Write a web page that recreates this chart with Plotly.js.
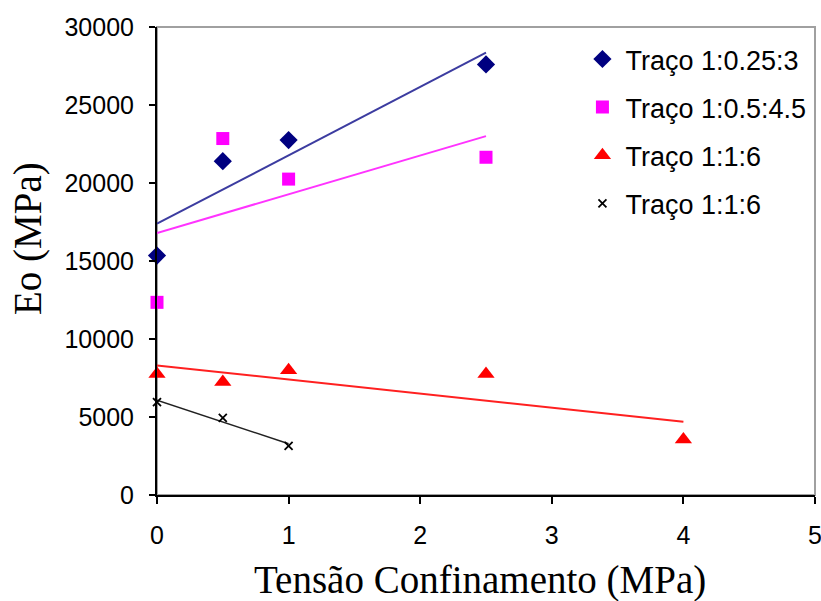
<!DOCTYPE html>
<html>
<head>
<meta charset="utf-8">
<script src="https://cdn.plot.ly/plotly-3.0.1.min.js"></script>
<style>html,body{margin:0;padding:0;background:#fff;}#chart{width:821px;height:601px;}</style>
</head>
<body>
<div id="chart"></div>
<script>
// Data
const seriesNames = ["Traço 1:0.25:3", "Traço 1:0.5:4.5", "Traço 1:1:6", "Traço 1:1:6"];
const x1 = [0, 0.5, 1, 2.5];
const y1 = [15350, 21400, 22750, 27600];
const x2 = [0, 0.5, 1, 2.5];
const y2 = [12350, 22850, 20250, 21650];
const x3 = [0, 0.5, 1, 2.5, 4];
const y3 = [7750, 7250, 8000, 7750, 3550];
const x4 = [0, 0.5, 1];
const y4 = [5950, 4950, 3150];
const xTicks = [0, 1, 2, 3, 4, 5];
const yTicks = [0, 5000, 10000, 15000, 20000, 25000, 30000];

// least-squares linear trendline from the data
function fit(xs, ys) {
  const n = xs.length;
  const mx = xs.reduce((a, b) => a + b, 0) / n;
  const my = ys.reduce((a, b) => a + b, 0) / n;
  let sxy = 0, sxx = 0;
  for (let i = 0; i < n; i++) { sxy += (xs[i] - mx) * (ys[i] - my); sxx += (xs[i] - mx) ** 2; }
  const m = sxy / sxx, b = my - m * mx;
  const lo = Math.min(...xs), hi = Math.max(...xs);
  return { x: [lo, hi], y: [m * lo + b, m * hi + b] };
}

const styles = [
  { marker: { symbol: "diamond", size: 14, color: "#000080" }, line: "#3c3ca0", lw: 2 },
  { marker: { symbol: "square", size: 13, color: "#ff00ff" }, line: "#ff33ff", lw: 2 },
  { marker: { symbol: "triangle-up", size: 15, color: "#ff0000" }, line: "#ff2020", lw: 2 },
  { marker: { symbol: "x-thin", size: 8, color: "#000000", line: { color: "#000000", width: 1.8 } }, line: "#222222", lw: 1.5 }
];
const xs = [x1, x2, x3, x4], ys = [y1, y2, y3, y4];
const traces = [];
for (let i = 0; i < 4; i++) {
  const t = fit(xs[i], ys[i]);
  traces.push({ x: t.x, y: t.y, mode: "lines", line: { color: styles[i].line, width: styles[i].lw },
    showlegend: false, hoverinfo: "skip", legendgroup: "g" + i, cliponaxis: false });
}
for (let i = 0; i < 4; i++) {
  traces.push({ x: xs[i], y: ys[i], mode: "markers", name: seriesNames[i], marker: styles[i].marker,
    legendgroup: "g" + i, cliponaxis: false });
}

const layout = {
  width: 821, height: 601,
  margin: { l: 157, r: 6, t: 27, b: 106 },
  paper_bgcolor: "#ffffff", plot_bgcolor: "#ffffff",
  showlegend: true,
  legend: { x: 0.642, y: 0.983, xanchor: "left", yanchor: "top", bgcolor: "rgba(0,0,0,0)",
    font: { family: "Liberation Sans, Arial, sans-serif", size: 27, color: "#000" },
    traceorder: "grouped", tracegroupgap: 10, itemsizing: "trace", itemwidth: 36 },
  xaxis: {
    range: [0, 5], tickvals: xTicks, ticktext: xTicks.map(String), showgrid: false, zeroline: false,
    showline: true, linecolor: "#000", linewidth: 2, ticks: "outside", ticklen: 7, tickwidth: 2, tickcolor: "#000",
    tickfont: { family: "Liberation Sans, Arial, sans-serif", size: 25, color: "#000" }, ticklabelstandoff: 10,
    ticklabeloverflow: "allow"
  },
  yaxis: {
    range: [0, 30000], tickvals: yTicks, ticktext: yTicks.map(String), showgrid: false, zeroline: false,
    showline: true, linecolor: "#000", linewidth: 2, ticks: "outside", ticklen: 6, tickwidth: 2, tickcolor: "#000",
    tickfont: { family: "Liberation Sans, Arial, sans-serif", size: 25, color: "#000" }, ticklabelstandoff: 10
  },
  shapes: [
    { type: "rect", xref: "paper", yref: "paper", x0: 0, x1: 1, y0: 0, y1: 1, layer: "below",
      line: { color: "#a0a0a0", width: 2 } }
  ],
  annotations: [
    { text: "Tensão Confinamento (MPa)", xref: "paper", yref: "paper", x: (480 - 157) / 658, y: -(580 - 495) / 468,
      xanchor: "center", yanchor: "middle", showarrow: false,
      font: { family: "Liberation Serif, Times New Roman, serif", size: 39, color: "#000" } },
    { text: "Eo (MPa)", xref: "paper", yref: "paper", x: -(157 - 28) / 658, y: (495 - 239) / 468,
      xanchor: "center", yanchor: "middle", showarrow: false, textangle: -90,
      font: { family: "Liberation Serif, Times New Roman, serif", size: 39, color: "#000" } }
  ]
};
Plotly.newPlot("chart", traces, layout, { displayModeBar: false, staticPlot: true });
</script>
</body>
</html>
